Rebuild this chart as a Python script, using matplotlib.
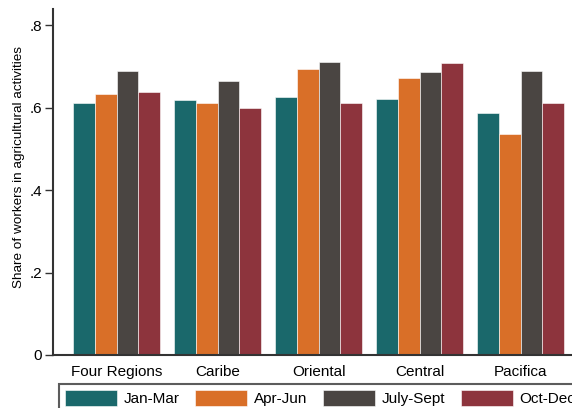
import numpy as np
import matplotlib
matplotlib.use("Agg")
import matplotlib.pyplot as plt
from matplotlib.patches import Patch

plt.rcParams["font.family"] = ["Liberation Sans", "DejaVu Sans"]

regions = ["Four Regions", "Caribe", "Oriental", "Central", "Pacifica"]
quarters = ["Jan-Mar", "Apr-Jun", "July-Sept", "Oct-Dec"]

jan_mar = [0.612, 0.618, 0.625, 0.621, 0.587]
apr_jun = [0.633, 0.612, 0.693, 0.671, 0.535]
jul_sep = [0.689, 0.665, 0.711, 0.686, 0.689]
oct_dec = [0.637, 0.600, 0.612, 0.708, 0.612]

colors = ["#1a686b", "#d96f28", "#4a4542", "#8d343d"]

fig = plt.figure(figsize=(5.72, 4.08), dpi=100)
ax = fig.add_axes([53 / 572, 53 / 408, 531 / 572, 346 / 408])

x = np.arange(len(regions))
w = 0.215
series = [jan_mar, apr_jun, jul_sep, oct_dec]
for i, (vals, c) in enumerate(zip(series, colors)):
    ax.bar(x + (i - 1.5) * w, vals, width=w, color=c,
           edgecolor="#ffffff", linewidth=0.4, zorder=2)

ax.set_xlim(-0.631, 4.627)
ax.set_ylim(0, 0.839)
ax.set_yticks([0, 0.2, 0.4, 0.6, 0.8])
ax.set_yticklabels(["0", ".2", ".4", ".6", ".8"])
ax.set_xticks(x)
ax.set_xticklabels(regions)
ax.tick_params(axis="y", length=6, width=1, color="#333333", labelsize=11, pad=2)
ax.tick_params(axis="x", length=0, labelsize=11, pad=7)
ax.set_ylabel("Share of workers in agricultural activities", fontsize=9.7)
ax.yaxis.set_label_coords(-0.053, 0.543)

for s in ["top", "right"]:
    ax.spines[s].set_visible(False)
for s in ["left", "bottom"]:
    ax.spines[s].set_color("#333333")
    ax.spines[s].set_linewidth(1.5)

handles = [Patch(facecolor=c, edgecolor="#ffffff", linewidth=0.4) for c in colors]
leg = fig.legend(handles, quarters, ncol=4, loc="upper left",
                 bbox_to_anchor=(59 / 572, 1 - 384 / 408), borderaxespad=0,
                 fontsize=11, handlelength=3.4, handleheight=1.2,
                 handletextpad=0.46, columnspacing=1.0, borderpad=0.4,
                 frameon=True, fancybox=False)
leg.get_frame().set_edgecolor("#333333")
leg.get_frame().set_linewidth(1.5)

fig.savefig("out.png", dpi=100)
